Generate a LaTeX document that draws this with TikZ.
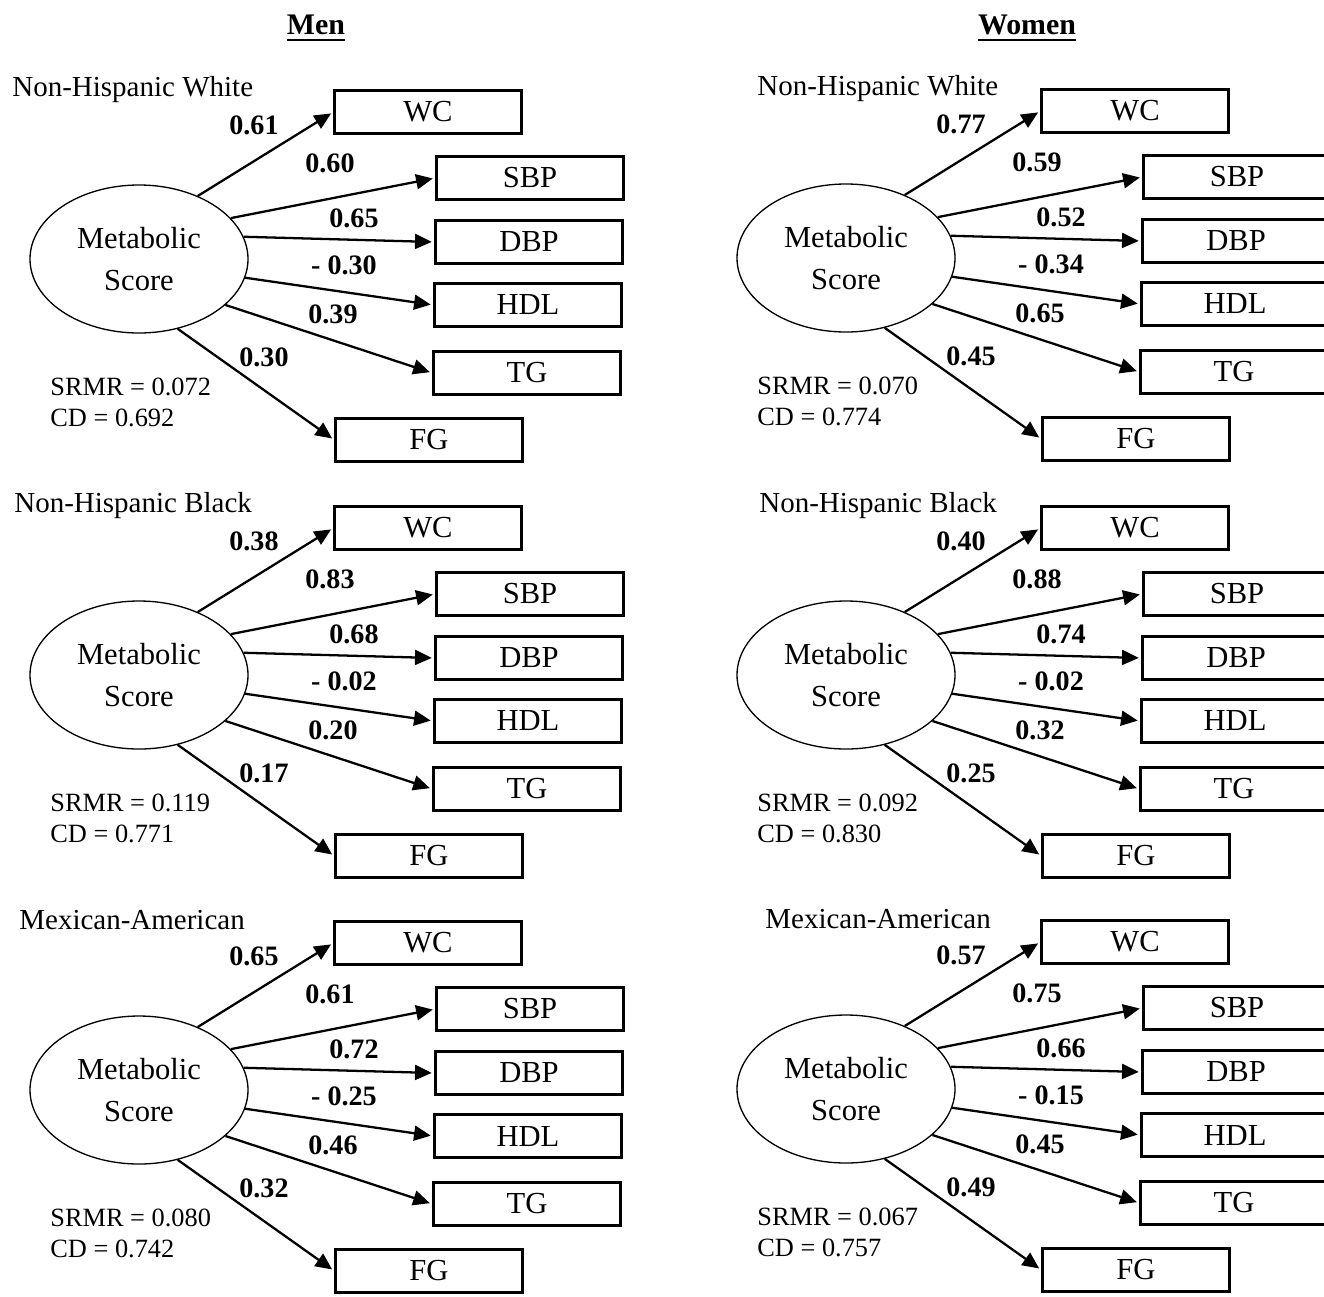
\documentclass[tikz,border=0pt]{standalone}
\usepackage{fontspec}
\setmainfont{Liberation Serif}
\usetikzlibrary{arrows.meta,shapes.geometric}

\begin{document}
\begin{tikzpicture}[
  lv/.style={ellipse, draw, line width=0.75pt, minimum width=4.36cm, minimum height=2.96cm, inner sep=0pt, align=center, font=\fontsize{17.4}{24}\selectfont},
  ob/.style={rectangle, draw, line width=1.3pt, minimum width=3.74cm, minimum height=0.86cm, inner sep=0pt, font=\fontsize{17.4}{20}\selectfont},
  ld/.style={inner sep=0pt, font=\fontsize{16}{18}\selectfont\bfseries},
  gof/.style={anchor=west, inner sep=0pt, font=\fontsize{15}{18}\selectfont},
  grp/.style={anchor=west, inner sep=0pt, font=\fontsize{16.5}{18}\selectfont},
  hd/.style={inner sep=0pt, font=\fontsize{17}{20}\selectfont\bfseries},
  ldarrow/.style={-{Triangle[length=9.5pt,width=8.5pt]}, line width=1.3pt, shorten >=1.5pt},
]
\useasboundingbox (0,0) rectangle (26.48,-25.92);
\clip (0,0) rectangle (26.48,-25.92);

% Column headings
\node[hd] (men) at (6.32,-0.5) {Men};
\node[hd] (women) at (20.54,-0.5) {Women};
\draw[line width=1.5pt] ([yshift=-3pt]men.base west) -- ([yshift=-3pt]men.base east);
\draw[line width=1.5pt] ([yshift=-3pt]women.base west) -- ([yshift=-3pt]women.base east);

% One measurement model per panel
\foreach \p/\cx/\cy/\gx/\grp/\la/\lb/\lc/\ld/\le/\lf/\sr/\cd in {
  m1/2.78/-5.18/-2.54/Non-Hispanic White/0.61/0.60/0.65/- 0.30/0.39/0.30/0.072/0.692,
  m2/2.78/-13.50/-2.50/Non-Hispanic Black/0.38/0.83/0.68/- 0.02/0.20/0.17/0.119/0.771,
  m3/2.78/-21.80/-2.40/Mexican-American/0.65/0.61/0.72/- 0.25/0.46/0.32/0.080/0.742,
  w1/16.92/-5.16/-1.78/Non-Hispanic White/0.77/0.59/0.52/- 0.34/0.65/0.45/0.070/0.774,
  w2/16.92/-13.50/-1.74/Non-Hispanic Black/0.40/0.88/0.74/- 0.02/0.32/0.25/0.092/0.830,
  w3/16.92/-21.78/-1.62/Mexican-American/0.57/0.75/0.66/- 0.15/0.45/0.49/0.067/0.757}{
\begin{scope}[shift={(\cx,\cy)}]
  \node[lv] (\p ms) at (0,0) {Metabolic\\Score};
  \node[grp] (\p grp) at (\gx,3.39) {\grp};

  % indicators
  \node[ob] (\p WC) at (5.78,2.94) {WC};
  \node[ob] (\p SBP) at (7.82,1.62) {SBP};
  \node[ob] (\p DBP) at (7.80,0.34) {DBP};
  \node[ob] (\p HDL) at (7.78,-0.92) {HDL};
  \node[ob] (\p TG) at (7.76,-2.28) {TG};
  \node[ob] (\p FG) at (5.80,-3.62) {FG};

  % loadings
  \draw[ldarrow] (\p ms.47) -- (\p WC.west);
  \draw[ldarrow] (\p ms.24) -- (\p SBP.west);
  \draw[ldarrow] (\p ms.12) -- (\p DBP.west);
  \draw[ldarrow] (\p ms.-10) -- (\p HDL.west);
  \draw[ldarrow] (\p ms.-28) -- (\p TG.west);
  \draw[ldarrow] (\p ms.-61) -- (\p FG.west);
  \node[ld] (\p la) at (2.30,2.68) {\la};
  \node[ld] (\p lb) at (3.82,1.92) {\lb};
  \node[ld] (\p lc) at (4.30,0.82) {\lc};
  \node[ld] (\p ld) at (4.10,-0.12) {\ld};
  \node[ld] (\p le) at (3.88,-1.10) {\le};
  \node[ld] (\p lf) at (2.50,-1.96) {\lf};

  % fit indices
  \node[gof] (\p sr) at (-1.78,-2.56) {SRMR = \sr};
  \node[gof] (\p cd) at (-1.78,-3.18) {CD = \cd};
\end{scope}
}
\end{tikzpicture}
\end{document}
